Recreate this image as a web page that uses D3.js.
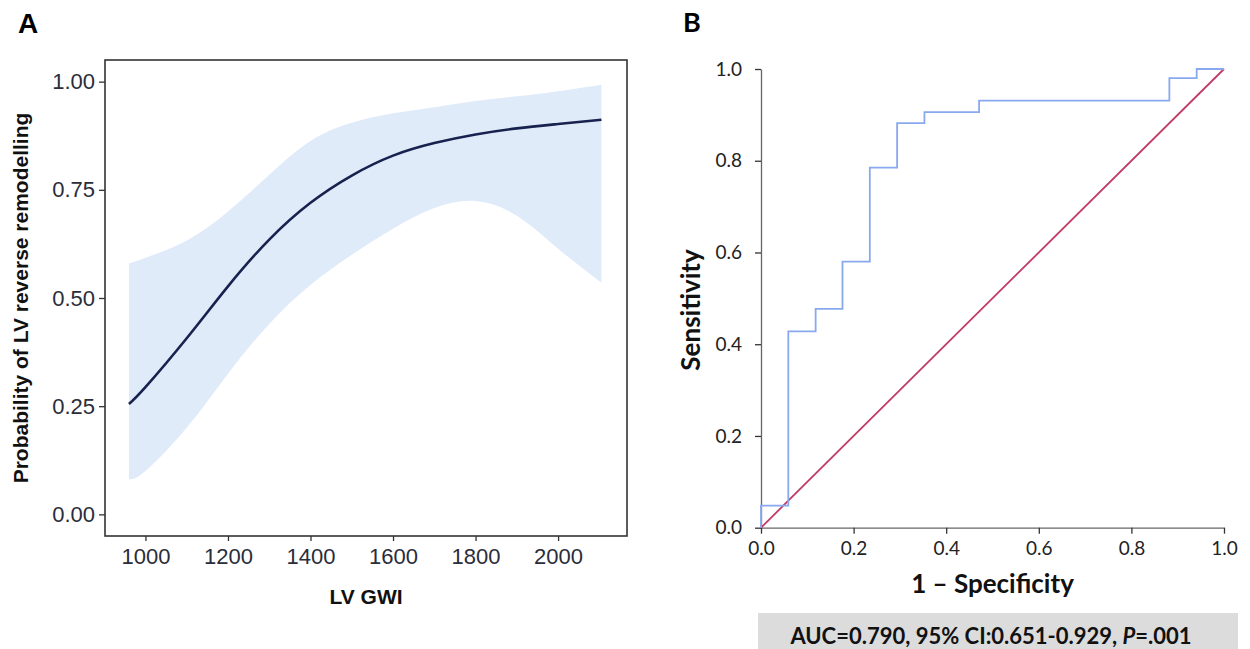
<!DOCTYPE html>
<html>
<head>
<meta charset="utf-8">
<script src="https://cdn.jsdelivr.net/npm/d3@7"></script>
<style>
  body { margin: 0; background: #fff; }
  svg { display: block; }
</style>
</head>
<body>
<svg id="chart" width="1250" height="649"></svg>
<script>
// Panel A: predicted probability vs LV GWI with 95% band
const gwi     = [960, 1000, 1100, 1200, 1300, 1400, 1500, 1600, 1700, 1800, 1900, 2000, 2105];
const prob    = [0.255, 0.294, 0.407, 0.527, 0.635, 0.72, 0.783, 0.829, 0.858, 0.878, 0.892, 0.902, 0.912];
const ciUpper = [0.579, 0.593, 0.633, 0.70, 0.785, 0.863, 0.905, 0.927, 0.941, 0.955, 0.966, 0.978, 0.993];
const ciLower = [0.081, 0.10, 0.20, 0.325, 0.44, 0.53, 0.60, 0.66, 0.708, 0.724, 0.69, 0.614, 0.535];
const xTicksA = [1000, 1200, 1400, 1600, 1800, 2000];
const yTicksA = [0, 0.25, 0.5, 0.75, 1];

// Panel B: ROC curve vertices (1 - specificity, sensitivity)
const fpr = [0, 0, 0.059, 0.118, 0.176, 0.235, 0.294, 0.353, 0.471, 0.882, 0.941, 1];
const tpr = [0, 0.048, 0.428, 0.477, 0.58, 0.785, 0.882, 0.906, 0.931, 0.98, 1.0, 1.0];
const ticksB = [0, 0.2, 0.4, 0.6, 0.8, 1.0];

const svg = d3.select('#chart');

// ---------- panel A ----------
const boxA = { left: 105, top: 60, right: 627, bottom: 536 };
const xA = d3.scaleLinear().domain([902, 2167]).range([boxA.left, boxA.right]);
const yA = d3.scaleLinear().domain([-0.05, 1.05]).range([boxA.bottom, boxA.top]);

const rowsA = gwi.map((g, i) => ({ g, p: prob[i], lo: ciLower[i], hi: ciUpper[i] }));

const gA = svg.append('g').style('font-family', '"Liberation Sans", Arial, sans-serif');

gA.append('path')
  .datum(rowsA)
  .attr('fill', '#e0ebfa')
  .attr('d', d3.area()
    .curve(d3.curveNatural)
    .x(d => xA(d.g))
    .y0(d => yA(d.lo))
    .y1(d => yA(d.hi)));

gA.append('path')
  .datum(rowsA)
  .attr('fill', 'none')
  .attr('stroke', '#17224f')
  .attr('stroke-width', 2.6)
  .attr('d', d3.line()
    .curve(d3.curveNatural)
    .x(d => xA(d.g))
    .y(d => yA(d.p)));

gA.append('rect')
  .attr('x', boxA.left)
  .attr('y', boxA.top)
  .attr('width', boxA.right - boxA.left)
  .attr('height', boxA.bottom - boxA.top)
  .attr('fill', 'none')
  .attr('stroke', '#333')
  .attr('stroke-width', 1.6);

const axLeftA = gA.append('g')
  .attr('transform', `translate(${boxA.left},0)`)
  .call(d3.axisLeft(yA).tickValues(yTicksA).tickFormat(d3.format('.2f')).tickSize(6).tickPadding(4));

const axBottomA = gA.append('g')
  .attr('transform', `translate(0,${boxA.bottom})`)
  .call(d3.axisBottom(xA).tickValues(xTicksA).tickFormat(d3.format('d')).tickSize(5).tickPadding(7));

[axLeftA, axBottomA].forEach(ax => {
  ax.select('.domain').remove();
  ax.selectAll('line').attr('stroke', '#333').attr('stroke-width', 1.3);
  ax.selectAll('text')
    .attr('fill', '#2a2d3a')
    .style('font-size', '22px')
    .style('font-family', '"Liberation Sans", Arial, sans-serif');
});

gA.append('text')
  .attr('x', (boxA.left + boxA.right) / 2)
  .attr('y', 604)
  .attr('text-anchor', 'middle')
  .style('font-size', '21px')
  .style('font-weight', 'bold')
  .attr('fill', '#111')
  .text('LV GWI');

gA.append('text')
  .attr('transform', `translate(28,${(boxA.top + boxA.bottom) / 2}) rotate(-90)`)
  .attr('text-anchor', 'middle')
  .style('font-size', '21px')
  .style('font-weight', 'bold')
  .attr('fill', '#111')
  .text('Probability of LV reverse remodelling');

gA.append('text')
  .attr('x', 18)
  .attr('y', 33)
  .style('font-size', '28px')
  .style('font-weight', 'bold')
  .attr('fill', '#000')
  .text('A');

// ---------- panel B ----------
const boxB = { left: 761, right: 1224, top: 69, bottom: 527.7 };
const xB = d3.scaleLinear().domain([0, 1]).range([boxB.left, boxB.right]);
const yB = d3.scaleLinear().domain([0, 1]).range([boxB.bottom, boxB.top]);

const gB = svg.append('g').style('font-family', 'Lato, "Open Sans", sans-serif');

const axLeftB = gB.append('g')
  .attr('transform', `translate(${boxB.left},0)`)
  .call(d3.axisLeft(yB).tickValues(ticksB).tickFormat(d3.format('.1f')).tickSize(6).tickSizeOuter(0).tickPadding(13));

const axBottomB = gB.append('g')
  .attr('transform', `translate(0,${boxB.bottom})`)
  .call(d3.axisBottom(xB).tickValues(ticksB).tickFormat(d3.format('.1f')).tickSize(6).tickSizeOuter(0).tickPadding(8));

[axLeftB, axBottomB].forEach(ax => {
  ax.select('.domain').attr('stroke', '#666').attr('stroke-width', 1.3);
  ax.selectAll('line').attr('stroke', '#333').attr('stroke-width', 1.3);
  ax.selectAll('text')
    .attr('fill', '#222')
    .style('font-size', '19px')
    .style('font-family', 'Lato, "Open Sans", sans-serif');
});

// reference diagonal
gB.append('line')
  .attr('x1', xB(0)).attr('y1', yB(0))
  .attr('x2', xB(1)).attr('y2', yB(1))
  .attr('stroke', '#c03c64')
  .attr('stroke-width', 1.8);

// ROC step curve
gB.append('path')
  .datum(fpr.map((f, i) => [f, tpr[i]]))
  .attr('fill', 'none')
  .attr('stroke', '#88a9ef')
  .attr('stroke-width', 1.8)
  .attr('d', d3.line().curve(d3.curveStepAfter).x(d => xB(d[0])).y(d => yB(d[1])));

gB.append('text')
  .attr('x', (boxB.left + boxB.right) / 2)
  .attr('y', 593)
  .attr('text-anchor', 'middle')
  .style('font-size', '26px')
  .style('font-weight', 'bold')
  .attr('fill', '#111')
  .text('1 \u2013 Specificity');

gB.append('text')
  .attr('transform', 'translate(700,310) rotate(-90)')
  .attr('text-anchor', 'middle')
  .style('font-size', '26px')
  .style('font-weight', 'bold')
  .attr('fill', '#111')
  .text('Sensitivity');

gB.append('text')
  .attr('x', 683)
  .attr('y', 32)
  .style('font-size', '27px')
  .style('font-weight', 'bold')
  .attr('fill', '#000')
  .text('B');

// AUC box
gB.append('rect')
  .attr('x', 758)
  .attr('y', 613)
  .attr('width', 480)
  .attr('height', 40)
  .attr('fill', '#dcdcdc');

const auc = gB.append('text')
  .attr('x', 991)
  .attr('y', 644)
  .attr('text-anchor', 'middle')
  .style('font-size', '22px')
  .style('font-weight', 'bold')
  .attr('fill', '#111');
auc.append('tspan').text('AUC=0.790, 95% CI:0.651-0.929, ');
auc.append('tspan').style('font-style', 'italic').text('P');
auc.append('tspan').text('=.001');
</script>
</body>
</html>
